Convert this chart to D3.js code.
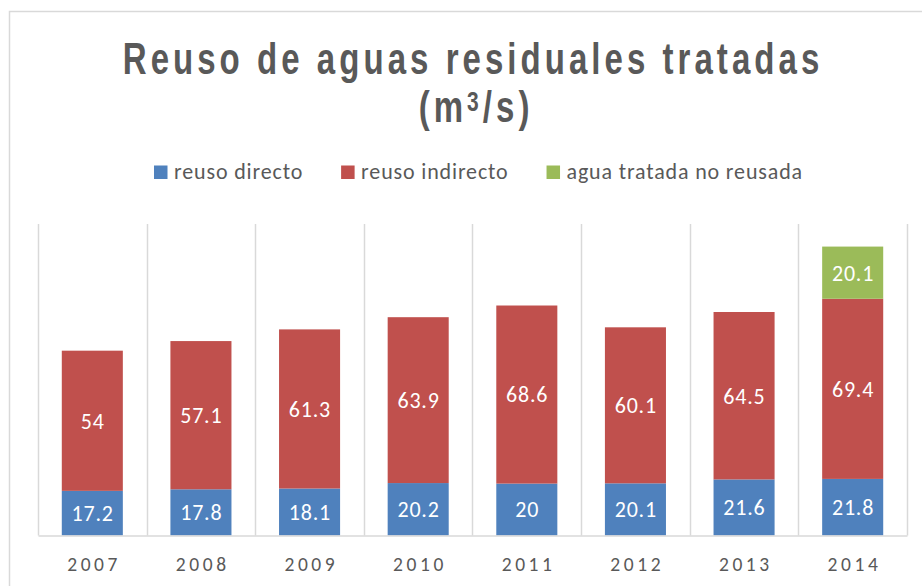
<!DOCTYPE html>
<html><head><meta charset="utf-8">
<script src="https://cdn.jsdelivr.net/npm/d3@7"></script>
<style>body{margin:0;background:#fff}svg{display:block}</style>
</head><body>
<svg id="c" width="922" height="586"></svg>
<script>
const years = ["2007","2008","2009","2010","2011","2012","2013","2014"];
const reusoDirecto = [17.2,17.8,18.1,20.2,20,20.1,21.6,21.8];
const reusoIndirecto = [54,57.1,61.3,63.9,68.6,60.1,64.5,69.4];
const aguaNoReusada = [null,null,null,null,null,null,null,20.1];
const seriesNames = ["reuso directo","reuso indirecto","agua tratada no reusada"];
const colors = ["#4F81BD","#C0504D","#9BBB59"];

const svg = d3.select("#c");
const plot = {l:38, r:907, t:224, b:535.5};
const FONT = "Carlito, Lato, sans-serif";

svg.append("rect").attr("x",9.5).attr("y",11.5).attr("width",940).attr("height",600)
  .attr("fill","#fff").attr("stroke","#d9d9d9").attr("stroke-width",1.5);

const x = d3.scaleBand().domain(years).range([plot.l, plot.r]).paddingInner(0.438).paddingOuter(0.219);
const y = d3.scaleLinear().domain([0,120]).range([plot.b, plot.t]);

// vertical gridlines at category boundaries
const off = (x.step()-x.bandwidth())/2;
const bounds = years.map(d => x(d)-off).concat([x(years[years.length-1]) + x.bandwidth() + off]);
svg.append("g").selectAll("line").data(bounds).join("line")
  .attr("x1",d=>Math.round(d)+0.5).attr("x2",d=>Math.round(d)+0.5)
  .attr("y1",plot.t).attr("y2",plot.b)
  .attr("stroke","#d9d9d9").attr("stroke-width",1.5);

// stacked data
const table = years.map((yr,i)=>({year:yr, a:reusoDirecto[i], b:reusoIndirecto[i], c:aguaNoReusada[i]||0}));
const stack = d3.stack().keys(["a","b","c"])(table);
const raw = [reusoDirecto, reusoIndirecto, aguaNoReusada];

const g = svg.append("g");
stack.forEach((layer,k)=>{
  layer.forEach((seg,i)=>{
    if (raw[k][i]==null) return;
    g.append("rect").attr("x",x(years[i])).attr("width",x.bandwidth())
      .attr("y",y(seg[1])).attr("height",y(seg[0])-y(seg[1]))
      .attr("fill",colors[k]);
    g.append("text").attr("x",x(years[i])+x.bandwidth()/2+0.4)
      .attr("y",(y(seg[0])+y(seg[1]))/2)
      .attr("dy","0.36em").attr("text-anchor","middle")
      .attr("fill","#fff").attr("font-family",FONT).attr("font-size",22)
      .attr("letter-spacing","0.8px")
      .text(raw[k][i]);
  });
});

// x axis
const xAxis = d3.axisBottom(x).tickSize(0).tickPadding(0);
const ax = svg.append("g").attr("transform",`translate(0,${plot.b})`).call(xAxis);
ax.select(".domain").attr("stroke","#d9d9d9").attr("stroke-width",1.5);
ax.selectAll("text").attr("y",28).attr("dy","0.36em").attr("fill","#595959")
  .attr("font-family",FONT).attr("font-size",19.5).attr("letter-spacing","3.6px")
  .attr("dx","1.8px");

// title (tall, horizontally condensed, letter-spaced)
const TF = "Liberation Sans, Arial, sans-serif";
const SX = 0.75, LS = 5.4;
const g1 = svg.append("g").attr("transform",`translate(${471 + LS*SX/2},74.3) scale(${SX},1)`);
g1.append("text").attr("text-anchor","middle").attr("fill","#595959")
  .attr("font-family",TF).attr("font-weight","bold").attr("font-size",44)
  .attr("letter-spacing",LS+"px")
  .text("Reuso de aguas residuales tratadas");
const g2 = svg.append("g").attr("transform",`translate(${474 + LS*SX/2},121.7) scale(${SX},1)`);
const t2 = g2.append("text").attr("text-anchor","middle").attr("fill","#595959")
  .attr("font-family",TF).attr("font-weight","bold").attr("font-size",44)
  .attr("letter-spacing",LS+"px");
t2.append("tspan").text("(m");
t2.append("tspan").attr("font-size",28).attr("dy",-11).text("3");
t2.append("tspan").attr("dy",11).text("/s)");

// legend
const leg = svg.append("g");
let lx = 154;
seriesNames.forEach((n,k)=>{
  leg.append("rect").attr("x",lx).attr("y",165.5).attr("width",13.5).attr("height",13.5).attr("fill",colors[k]);
  const tx = leg.append("text").attr("x",lx+20).attr("y",178.5).attr("fill","#595959")
    .attr("font-family",FONT).attr("font-size",22).attr("letter-spacing","0.85px").text(n);
  lx = lx + 20 + tx.node().getComputedTextLength() + 38;
});
</script>
</body></html>
